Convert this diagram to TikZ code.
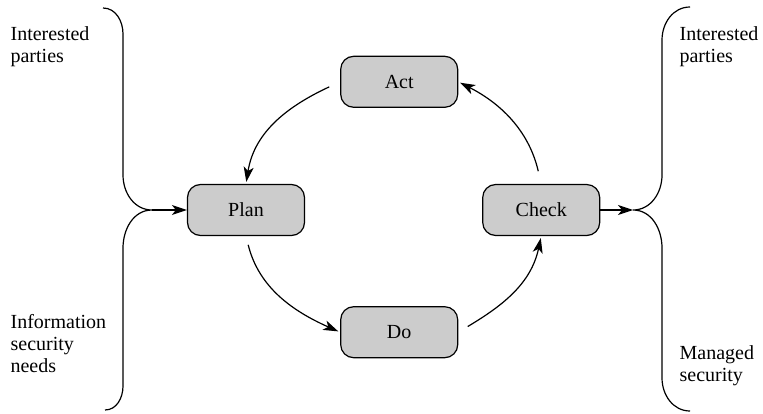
\documentclass[tikz,border=0pt]{standalone}
\usepackage{fontspec}
\setmainfont{LiberationSerif-Regular.ttf}
\usetikzlibrary{positioning,arrows.meta}
\tikzset{
  >={Stealth[length=7.5pt,width=5pt,inset=2pt]},
  phase/.style={draw,fill=gray!40,rounded corners=6.5pt,minimum width=58.5pt,minimum height=25.5pt},
  party/.style={align=left,inner sep=0pt,anchor=north west},
}

\begin{document}
\begin{tikzpicture}[
  x=0.5pt,y=0.5pt,
  line width=0.6pt,
  font=\fontsize{10}{11}\selectfont,
]
\useasboundingbox (0,0) rectangle (763,413);
\node[phase] (plan) at (246,203) {Plan};
\node[phase, right=88.5pt of plan] (check) {Check};
\node[phase, above right=38pt and 17.5pt of plan] (act) {Act};
\node[phase, below right=35pt and 17.5pt of plan] (do) {Do};

\node[party] (linterest) at (10,387) {Interested\\parties};
\node[party] (lneeds) at (10,99) {Information\\security\\needs};
\node[party] (rinterest) at (679,387) {Interested\\parties};
\node[party] (rmanaged) at (679,68) {Managed\\security};

\coordinate (ljoin) at (152,203);
\coordinate (ltop) at (103,405);
\coordinate (lbot) at (105,3);
\coordinate (rjoin) at (633,203);
\coordinate (rtop) at (690,406);
\coordinate (rbot) at (690,2);

\draw (ltop) to[out=0,in=90] ++(20,-26) -- ++(0,-141) to[out=-90,in=180] (ljoin)
  to[out=180,in=90] ++(-29,-38) -- ++(0,-138) to[out=-90,in=0] (lbot);
\draw (rtop) to[out=180,in=90] ++(-28,-33) -- ++(0,-135) to[out=-90,in=0] (rjoin)
  to[out=0,in=90] ++(29,-38) -- ++(0,-130) to[out=-90,in=180] (rbot);

\draw[->] (ljoin) -- (plan);
\draw[->] (check) -- (rjoin);

\path[->,shorten >=1pt]
(act.west) edge[out=205,in=81,shorten <=6pt] (plan.north)
(plan.south) edge[out=284,in=156,shorten <=4.5pt] (do.west)
(do.east) edge[out=31,in=258,shorten <=5.5pt] (check.south)
(check.north) edge[out=103,in=333,shorten <=6.5pt] (act.east);
\end{tikzpicture}
\end{document}
